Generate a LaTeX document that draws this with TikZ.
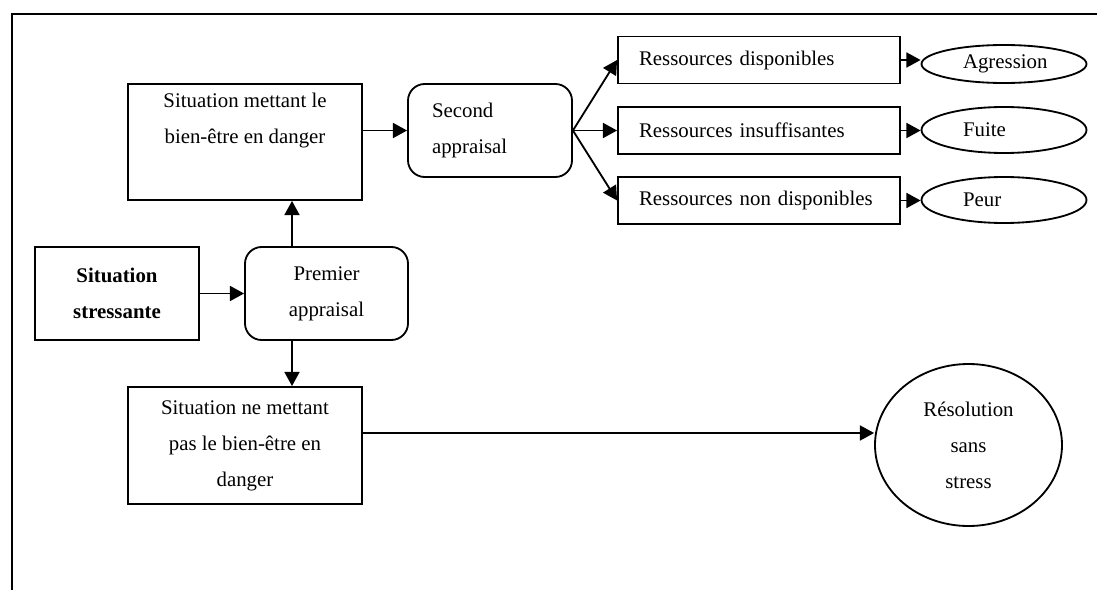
\documentclass[tikz,border=0pt]{standalone}
\usepackage{fontspec}
\setmainfont{Liberation Serif}
\usetikzlibrary{arrows.meta,shapes.geometric}

\tikzset{
  base/.style={draw, line width=1.1pt, inner sep=0pt, align=center,
    font=\fontsize{12.5}{21.6}\selectfont},
  sqbox/.style={base, rectangle},
  rbox/.style={base, rectangle, rounded corners=10pt},
  oval/.style={base, ellipse},
  arr/.style={line width=1.1pt, -{Triangle[length=8.5pt,width=9pt]}},
  frameline/.style={line width=1.2pt}
}

\begin{document}
\begin{tikzpicture}[x=0.6pt, y=-0.6pt]
  \useasboundingbox (0,0) rectangle (1097,590);

  % outer frame (top and left edges)
  \coordinate (f0) at (12,14);
  \coordinate (f1) at (1097,14);
  \coordinate (f2) at (12,590);
  \draw[frameline] (f1) -- (f0) -- (f2);

  % left column
  \node[sqbox, minimum width=164*0.6pt, minimum height=93*0.6pt,
        font=\fontsize{12.5}{21.6}\selectfont\bfseries]
    (ss) at (117,293.5) {Situation\\stressante};
  \node[rbox, minimum width=163*0.6pt, minimum height=93*0.6pt]
    (pa) at (326.5,293.5) {Premier\\appraisal};

  \node[sqbox, minimum width=234*0.6pt, minimum height=116*0.6pt]
    (sm) at (245,142) {Situation mettant le\\bien-être en danger\\\strut};
  \node[sqbox, minimum width=234*0.6pt, minimum height=117*0.6pt]
    (nm) at (245,445.5) {Situation ne mettant\\pas le bien-être en\\danger};

  % second appraisal and resources
  \node[rbox, minimum width=164*0.6pt, minimum height=93*0.6pt,
        align=left, text width=116*0.6pt]
    (sa) at (490,130.5) {Second\\appraisal};

  \node[sqbox, minimum width=282*0.6pt, minimum height=47*0.6pt,
        align=left, text width=240*0.6pt]
    (r1) at (759,60) {Ressources disponibles};
  \node[sqbox, minimum width=282*0.6pt, minimum height=47*0.6pt,
        align=left, text width=240*0.6pt]
    (r2) at (759,130.5) {Ressources insuffisantes};
  \node[sqbox, minimum width=282*0.6pt, minimum height=47*0.6pt,
        align=left, text width=240*0.6pt]
    (r3) at (759,200.5) {Ressources non disponibles};

  % outcomes
  \node[oval, minimum width=165*0.6pt, minimum height=38*0.6pt,
        align=left, text width=82*0.6pt]
    (e1) at (1004,64) {Agression};
  \node[oval, minimum width=165*0.6pt, minimum height=46*0.6pt,
        align=left, text width=82*0.6pt]
    (e2) at (1004,130) {Fuite};
  \node[oval, minimum width=165*0.6pt, minimum height=46*0.6pt,
        align=left, text width=82*0.6pt]
    (e3) at (1004,200) {Peur};

  \node[oval, minimum width=187*0.6pt, minimum height=162*0.6pt]
    (res) at (968.5,445) {Résolution\\sans\\stress};

  % helper coordinates for the straight connectors
  \coordinate (axis) at (292,293);
  \coordinate (lvl) at (0,433);

  % connectors
  \draw[arr] (ss.east) -- (pa.west);
  \draw[arr] (axis |- pa.north) -- (axis |- sm.south);
  \draw[arr] (axis |- pa.south) -- (axis |- nm.north);
  \draw[arr] (sm.east |- sa.west) -- (sa.west);
  \draw[arr] (sa.east) -- (r1.west);
  \draw[arr] (sa.east) -- (r2.west);
  \draw[arr] (sa.east) -- (r3.west);
  \draw[arr] (r1.east) -- (r1.east -| e1.west);
  \draw[arr] (r2.east) -- (r2.east -| e2.west);
  \draw[arr] (r3.east) -- (r3.east -| e3.west);
  \draw[arr] (lvl -| nm.east) -- (lvl -| res.west);
\end{tikzpicture}
\end{document}
